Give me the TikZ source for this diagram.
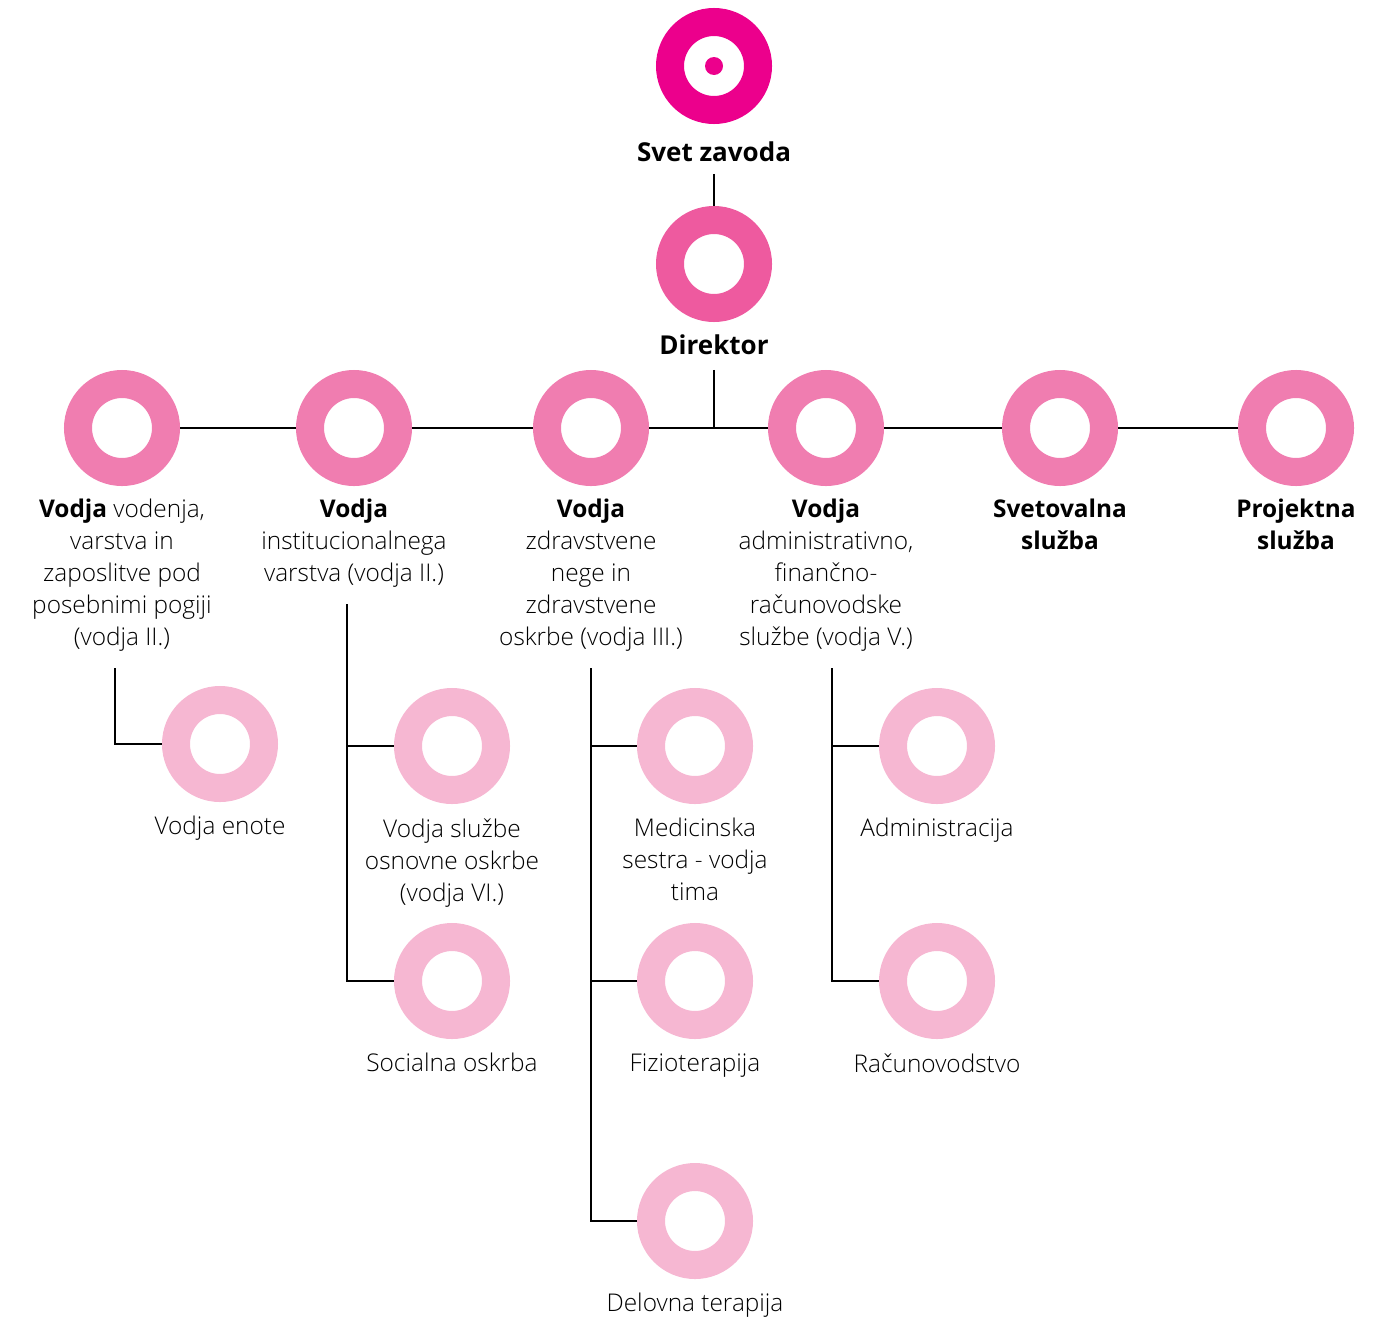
\documentclass[tikz,border=0pt]{standalone}
\usepackage{fontspec}
\setmainfont{Open Sans Light}
\newfontfamily\opensans{Open Sans}
\newcommand{\krepko}[1]{{\opensans\bfseries #1}}
\usetikzlibrary{positioning}

\definecolor{svetpink}{HTML}{EC008C}
\definecolor{dirpink}{HTML}{EE5A9F}
\definecolor{vodjapink}{HTML}{F07DB0}
\definecolor{enotapink}{HTML}{F6B7D2}

\tikzset{
	ring/.style={circle,draw=#1,line width=14pt,minimum size=44pt,inner sep=0pt},
	lbl/.style={align=center,inner sep=0pt,font=\fontsize{12.2}{16}\selectfont},
	toplbl/.style={align=center,inner sep=0pt,font=\fontsize{13}{16}\selectfont\opensans\bfseries},
	link/.style={line width=0.6pt,black}
}

\begin{document}
\begin{tikzpicture}[x=0.5pt,y=-0.5pt]
\useasboundingbox (0,0) rectangle (1385,1317);

% vrh
\node[ring=svetpink] (svet) at (714,66) {};
\fill[svetpink] (svet.center) circle (4.5pt);
\node[toplbl,below=8.5pt of svet] (svetl) {Svet zavoda};

\node[ring=dirpink] (dir) at (714,264) {};
\node[toplbl,below=6pt of dir] (dirl) {Direktor};
\draw[link,shorten <=6pt] (svetl) -- (dir);

% vodje
\foreach \x/\y in {122/v1,354/v2,591/v3,826/v4,1060/v5,1296/v6}
{
	\node[ring=vodjapink] (\y) at (\x,428) {};
}
\draw[link] (v1) -- (v2) -- (v3) -- (v4) -- (v5) -- (v6);
\draw[link,shorten <=7.5pt] (dirl.south) -- (dirl.south |- v3.center);

\node[lbl,below=6.5pt of v1] (v1l) {\krepko{Vodja} vodenja,\\varstva in\\zaposlitve pod\\posebnimi pogiji\\(vodja II.)};
\node[lbl,below=6.5pt of v2] (v2l) {\krepko{Vodja}\\institucionalnega\\varstva (vodja II.)};
\node[lbl,below=6.5pt of v3] (v3l) {\krepko{Vodja}\\zdravstvene\\nege in\\zdravstvene\\oskrbe (vodja III.)};
\node[lbl,below=6.5pt of v4] (v4l) {\krepko{Vodja}\\administrativno,\\finančno-\\računovodske\\službe (vodja V.)};
\node[lbl,below=6.5pt of v5] (v5l) {\krepko{Svetovalna}\\\krepko{služba}};
\node[lbl,below=6.5pt of v6] (v6l) {\krepko{Projektna}\\\krepko{služba}};

% enote
\node[ring=enotapink] (enota) at (220,744) {};
\node[ring=enotapink] (sluzba) at (452,746) {};
\node[ring=enotapink] (socialna) at (452,981) {};
\node[ring=enotapink] (sestra) at (695,746) {};
\node[ring=enotapink] (fizio) at (695,981) {};
\node[ring=enotapink] (delovna) at (695,1221) {};
\node[ring=enotapink] (admin) at (937,746) {};
\node[ring=enotapink] (racun) at (937,981) {};

\node[lbl,below=7pt of enota] (enotal) {Vodja enote};
\node[lbl,below=7pt of sluzba] (sluzbal) {Vodja službe\\osnovne oskrbe\\(vodja VI.)};
\node[lbl,below=7pt of socialna] (socialnal) {Socialna oskrba};
\node[lbl,below=7pt of sestra] (sestral) {Medicinska\\sestra - vodja\\tima};
\node[lbl,below=7pt of fizio] (fiziol) {Fizioterapija};
\node[lbl,below=7pt of delovna] (delovnal) {Delovna terapija};
\node[lbl,below=7pt of admin] (adminl) {Administracija};
\node[lbl,below=7pt of racun] (racunl) {Računovodstvo};

\draw[link,shorten <=8pt] ([xshift=-3.5pt]v1l.south) |- (enota);
\draw[link,shorten <=8pt] ([xshift=-3.5pt]v2l.south) |- (sluzba);
\draw[link,shorten <=8pt] ([xshift=-3.5pt]v2l.south) |- (socialna);
\draw[link,shorten <=8pt] (v3l.south) |- (sestra);
\draw[link,shorten <=8pt] (v3l.south) |- (fizio);
\draw[link,shorten <=8pt] (v3l.south) |- (delovna);
\draw[link,shorten <=8pt] ([xshift=3pt]v4l.south) |- (admin);
\draw[link,shorten <=8pt] ([xshift=3pt]v4l.south) |- (racun);

\end{tikzpicture}
\end{document}
